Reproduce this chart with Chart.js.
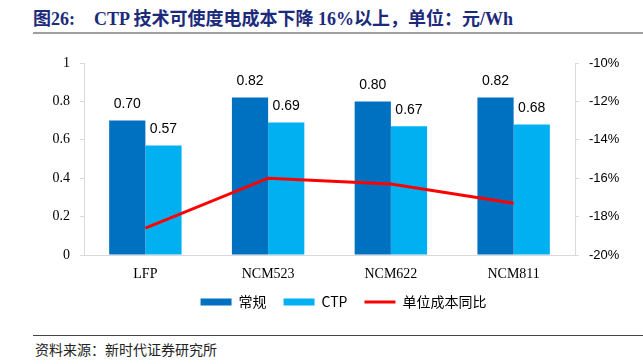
<!DOCTYPE html>
<html>
<head>
<meta charset="utf-8">
<script src="https://cdn.jsdelivr.net/npm/chart.js@4"></script>
<style>
  body { margin: 0; width: 643px; height: 364px; background: #fff; position: relative; overflow: hidden; }
  #title { position: absolute; left: 33px; top: 9px; font: bold 18px/21px "Liberation Serif", "Noto Sans CJK SC"; color: #1c2a7c; white-space: nowrap; }
  #title .num { display: inline-block; width: 61px; }
  #rule { position: absolute; left: 33px; right: 0; top: 32px; height: 2px; background: #a0a0a0; }
  #wrap { position: absolute; left: 0; top: 0; width: 643px; height: 321px; }
  #foot { position: absolute; left: 33px; right: 0; top: 335px; height: 1px; background: #444; }
  #src { position: absolute; left: 35px; top: 339px; font: 14px/20px "Noto Sans CJK SC"; color: #222; }
</style>
</head>
<body>
<div id="title"><span class="num">图26:</span>CTP 技术可使度电成本下降 16%以上，单位：元/Wh</div>
<div id="rule"></div>
<div id="wrap"><canvas id="chart"></canvas></div>
<div id="foot"></div>
<div id="src">资料来源：新时代证券研究所</div>
<script>
const categories = ["LFP", "NCM523", "NCM622", "NCM811"];
const normalCost = [0.70, 0.82, 0.80, 0.82];
const ctpCost = [0.57, 0.69, 0.67, 0.68];
const yoyChange = [-18.6, -16.0, -16.3, -17.3];
const leftTicks = [0, 0.2, 0.4, 0.6, 0.8, 1];
const rightTicks = [-20, -18, -16, -14, -12, -10];

// 막대 위 값 표시 + 범례 위치 보정
const barLabels = {
  id: "barLabels",
  afterLayout(chart) {
    const lg = chart.legend;
    if (lg) {
      lg.left += 22;
      lg.right += 22;
    }
  },
  afterDatasetsDraw(chart) {
    const ctx = chart.ctx;
    ctx.save();
    ctx.font = '14px "Liberation Sans"';
    ctx.fillStyle = "#000";
    ctx.textAlign = "center";
    ctx.textBaseline = "middle";
    chart.data.datasets.forEach((ds, i) => {
      if (ds.type !== "bar") return;
      chart.getDatasetMeta(i).data.forEach((bar, j) => {
        ctx.fillText(ds.data[j].toFixed(2), bar.x, bar.y - 16);
      });
    });
    ctx.restore();
  },
};

const axisGrey = "#d9d9d9";

new Chart(document.getElementById("chart"), {
  data: {
    labels: categories,
    datasets: [
      {
        type: "bar",
        label: "常规",
        data: normalCost,
        backgroundColor: "#0070c0",
        borderWidth: 0,
        barPercentage: 1,
        categoryPercentage: 0.59,
        yAxisID: "y",
        order: 1,
      },
      {
        type: "bar",
        label: "CTP",
        data: ctpCost,
        backgroundColor: "#00b0f0",
        borderWidth: 0,
        barPercentage: 1,
        categoryPercentage: 0.59,
        yAxisID: "y",
        order: 1,
      },
      {
        type: "line",
        label: "单位成本同比",
        data: yoyChange,
        borderColor: "#ff0000",
        backgroundColor: "#ff0000",
        borderWidth: 3,
        pointRadius: 0,
        tension: 0,
        yAxisID: "y1",
        order: 0,
      },
    ],
  },
  options: {
    responsive: true,
    maintainAspectRatio: false,
    animation: false,
    layout: { padding: { top: 63, left: 0, right: 0, bottom: 2 } },
    plugins: {
      tooltip: { enabled: false },
      legend: {
        position: "bottom",
        labels: {
          usePointStyle: true,
          pointStyleWidth: 31,
          boxHeight: 7,
          padding: 17,
          color: "#000",
          font: { family: '"Noto Sans CJK SC"', size: 14 },
          sort: (a, b) => a.datasetIndex - b.datasetIndex,
          generateLabels(chart) {
            const items = Chart.defaults.plugins.legend.labels.generateLabels(chart);
            return items.map((it) => {
              const ds = chart.data.datasets[it.datasetIndex];
              it.pointStyle = ds.type === "line" ? "line" : "rect";
              return it;
            });
          },
        },
      },
    },
    scales: {
      x: {
        grid: { display: false },
        border: { color: axisGrey },
        ticks: { color: "#000", font: { family: '"Liberation Serif"', size: 14 } },
        afterFit(scale) { scale.height = 23; },
      },
      y: {
        position: "left",
        min: 0,
        max: 1,
        grid: { drawOnChartArea: false, tickLength: 4, color: axisGrey },
        border: { color: axisGrey },
        afterBuildTicks(scale) { scale.ticks = leftTicks.map((v) => ({ value: v })); },
        ticks: {
          color: "#000",
          padding: 10,
          font: { family: '"Liberation Serif"', size: 14 },
          callback: (v) => (v === 0 || v === 1 ? String(v) : v.toFixed(1)),
        },
        afterFit(scale) { scale.width = 84; },
      },
      y1: {
        position: "right",
        min: -20,
        max: -10,
        grid: { drawOnChartArea: false, tickLength: 4, color: axisGrey },
        border: { color: axisGrey },
        afterBuildTicks(scale) { scale.ticks = rightTicks.map((v) => ({ value: v })); },
        ticks: {
          color: "#000",
          padding: 10,
          font: { family: '"Liberation Sans"', size: 13 },
          callback: (v) => `${v}%`,
        },
        afterFit(scale) { scale.width = 68; },
      },
    },
  },
  plugins: [barLabels],
});
</script>
</body>
</html>
